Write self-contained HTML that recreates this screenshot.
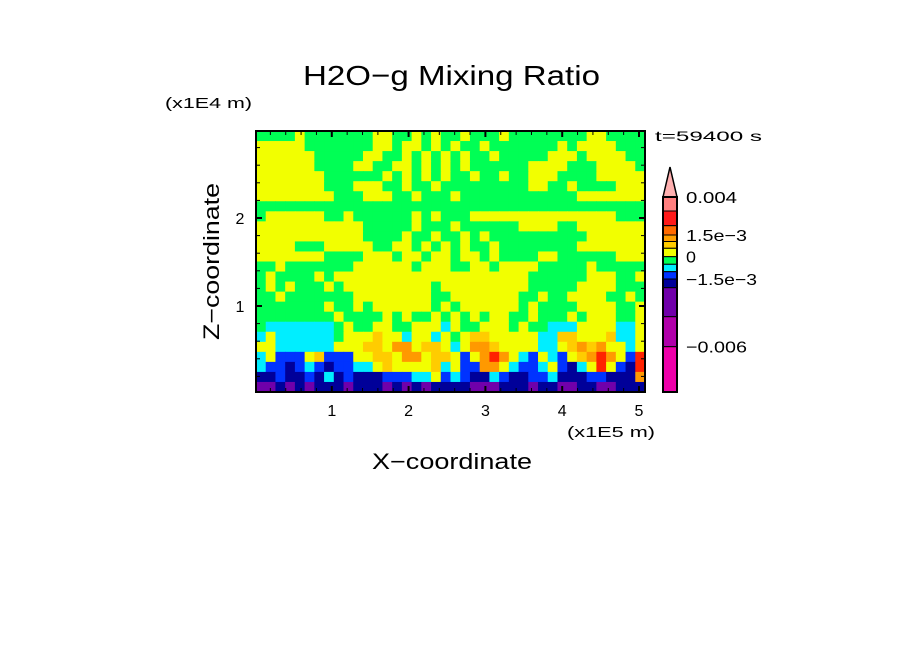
<!DOCTYPE html>
<html><head><meta charset="utf-8"><style>
body{margin:0;background:#fff;}
svg{display:block;font-family:"Liberation Sans",sans-serif;}
</style></head><body>
<svg id="chart" width="904" height="654" viewBox="0 0 904 654" xmlns="http://www.w3.org/2000/svg">
<rect width="904" height="654" fill="#fff"/>
<text x="303" y="85" font-size="28" textLength="297" lengthAdjust="spacingAndGlyphs" fill="#000">H2O−g Mixing Ratio</text>
<text x="165" y="108" font-size="15" textLength="87" lengthAdjust="spacingAndGlyphs" fill="#000">(x1E4 m)</text>
<text x="655" y="141" font-size="14" textLength="107" lengthAdjust="spacingAndGlyphs" fill="#000">t=59400 s</text>
<text x="567" y="437" font-size="15" textLength="88" lengthAdjust="spacingAndGlyphs" fill="#000">(x1E5 m)</text>
<text x="372" y="469" font-size="22" textLength="160" lengthAdjust="spacingAndGlyphs" fill="#000">X−coordinate</text>
<text x="0" y="0" font-size="22" textLength="157" lengthAdjust="spacingAndGlyphs" fill="#000" transform="translate(219,340) rotate(-90)">Z−coordinate</text>
<g id="field"></g>
<g id="axes"></g>
<g id="cbar"></g>
</svg>
<script>
const NS="http://www.w3.org/2000/svg";
// field rows (top to bottom), level codes
const fieldRows=[
"GGGGYGGGGGGGYYGGYGYGGYGGGYGGGGGGGGYYGGGG",
"YYYYYGGGGGGGYYGYYGYGYGGYGGGGGGGYGYYYYGGG",
"YYYYYYGGGGGYYGGYGYGYGYGGYGGGGGYYYGYYYYGG",
"YYYYYYGGGGYYGGYYGYGYGYGGGGGGYYYYGGGYYYYG",
"YYYYYYYGGGGGGYGYGYGYGGYGGYGGYYYGGGGYYYYY",
"YYYYYYYGGGYYYGGYGGYGGGGGGGGGYYGGYGGGGYYY",
"YYYYYYYYGGGYYYGGYGGGYGGGGGGGGGGGGYYYYYYY",
"GGGGGGGGGGGGGGGGGGGGGGGGGGGGGGGGGGGGGGGG",
"GYYYYYYGGYGGGGGGYGYGGGYYYYYYYYYYYYYYYGGG",
"YYYYYYYYYYYGGGGGYGGGYGGGGGGYYYYGGYYYYYYY",
"YYYYYYYYYYYGGGGYGGYGGYGYGGGGGGGGGGYYYYYY",
"YYYYGGGYYYYYGGYYGYGYGYGGYGGGGGGGGYYYYYYY",
"YYYYYYYGGGGYYYGYYGYYGYYGYGGGGYYGGGGGGYYY",
"GGYGGGGGGGYYYYYYGYYYGGYYGYYYYGGGGGYGGGGG",
"GYGGGGYGYYYYYYYYYYYYYYYYYYYYGGGGGGYYYGGY",
"GYGYGGGYGYYYYYYYYYGYYYYYYYYYGGGGGYYYYGGG",
"GGYGGGGGGGYYYYYYYYGGYYYYYYYGGYGGYYYYGGYG",
"GGGGGGGYGGYGYYYYYYGYGYYYYYYGYGGGGYYYYGGY",
"GGGGGGGGYGGGGYGYGGYGYGYGYYGGYGGGYGYYYGGY",
"GCCCCCCCGYGGYYGGYYYCYGGYYYGYGGCCCYYYYCCY",
"CYCCCCCCGYYYoYYCYYCYGYooYYYYYCCooYYYoCCY",
"YYCCCCCCYYYooYOOYooYCYOOoYYYYCCYoOoOYYCY",
"CYBBBYoBBBYYooYOOYooYBYOROYCBYCBYoOROYBR",
"CBBNBCBNBBCCYoYYYYoCYBBOOYCBBCYBNCYRYBNR",
"NNBNNBNCNBNNNBBBCCYBCBNNCBNNBBCNNNBBNNNO",
"PPNPNPNNNPNNNPNPNPNNNNPPPNNNPNNPPNNPPNNN"];
const levelCodes=["P","N","B","C","G","Y","o","O","R"];
const levelColors=["#7000aa","#000099","#0033ff","#00eeff","#00ff55","#f2ff00","#ffcc00","#ff9900","#ff2200"];
// colorbar levels top→bottom
const cbarColors=["#ff7f7f","#ff1a1a","#ff6a00","#ff9f00","#ffcc00","#f2ff00","#00ff55","#00eeff","#0033ff","#000099","#7000aa","#b000aa","#ee00aa"];
const cbarValues=[0.004,0.003,0.002,0.0015,0.001,0.0005,0,-0.0005,-0.001,-0.0015,-0.002,-0.004,-0.006,-0.009];
const cbarLabelText=["0.004","1.5e−3","0","−1.5e−3","−0.006"];
const cbarLabelValues=[0.004,0.0015,0,-0.0015,-0.006];
const xTicks=[1,2,3,4,5];
const yTicks=[1,2];
const X0=256,X1=645,Y0=131,Y1=392;
const xScale=v=>255+v*76.8;
const yScale=v=>394-v*88;
const field=document.getElementById('field');
const nr=fieldRows.length,nc=fieldRows[0].length;
const cw=(X1-X0)/nc,ch=(Y1-Y0)/nr;
for(let r=0;r<nr;r++){for(let c=0;c<nc;c++){
 const k=levelCodes.indexOf(fieldRows[r][c]);
 const el=document.createElementNS(NS,'rect');
 el.setAttribute('x',(X0+c*cw).toFixed(2));el.setAttribute('y',(Y0+r*ch).toFixed(2));
 el.setAttribute('width',(cw+0.6).toFixed(2));el.setAttribute('height',(ch+0.6).toFixed(2));
 el.setAttribute('fill',levelColors[k]);
 
 
 field.appendChild(el);}}
const axes=document.getElementById('axes');
function line(x1,y1,x2,y2,w,name){const l=document.createElementNS(NS,'line');
 l.setAttribute('x1',x1);l.setAttribute('y1',y1);l.setAttribute('x2',x2);l.setAttribute('y2',y2);
 l.setAttribute('stroke','#000');l.setAttribute('stroke-width',w);
 
 
 axes.appendChild(l);}
function text(x,y,s,size,anchor,name,parent){const t=document.createElementNS(NS,'text');
 t.setAttribute('x',x);t.setAttribute('y',y);t.setAttribute('font-size',size);t.setAttribute('text-anchor',anchor);
 t.textContent=s;
 
 
 parent.appendChild(t);return t;}
const fr=document.createElementNS(NS,'rect');
fr.setAttribute('x',X0);fr.setAttribute('y',Y0);fr.setAttribute('width',X1-X0);fr.setAttribute('height',Y1-Y0);
fr.setAttribute('fill','none');fr.setAttribute('stroke','#000');fr.setAttribute('stroke-width',2);


axes.appendChild(fr);
for(let v=0.2;v<5.1;v+=0.2){const x=xScale(v);const maj=Math.abs(v-Math.round(v))<0.01;const L=maj?6:4;
 line(x,Y1,x,Y1-L,maj?2:1,'x-tick');line(x,Y0,x,Y0+L,maj?2:1,'x-tick-top');}
for(let v=0.2;v<3;v+=0.2){const y=yScale(v);if(y<Y0)continue;const maj=Math.abs(v-Math.round(v))<0.01;const L=maj?6:4;
 line(X0,y,X0+L,y,maj?2:1,'y-tick');line(X1,y,X1-L,y,maj?2:1,'y-tick-right');}
xTicks.forEach(v=>text(xScale(v),416,String(v),16,'middle','x-tick-label',axes));
yTicks.forEach(v=>text(240,yScale(v)+6,String(v),16,'middle','y-tick-label',axes));
// colorbar
const cb=document.getElementById('cbar');
const cbX=663,cbW=14,cbTop=197,cbBot=392;
const bounds=[197,211,225.7,235,241.5,248.3,256.7,264.3,271.7,279,287.7,316.7,346.7,392];
const cy=v=>{for(let i=0;i<cbarValues.length-1;i++){const a=cbarValues[i],b=cbarValues[i+1];if(v<=a&&v>=b)return bounds[i]+(a-v)/(a-b)*(bounds[i+1]-bounds[i]);}return cbBot;};
for(let i=0;i<cbarColors.length;i++){const r=document.createElementNS(NS,'rect');
 const y0=cy(cbarValues[i]),y1=cy(cbarValues[i+1]);
 r.setAttribute('x',cbX);r.setAttribute('y',y0);r.setAttribute('width',cbW);r.setAttribute('height',y1-y0);
 r.setAttribute('fill',cbarColors[i]);r.setAttribute('stroke','#000');r.setAttribute('stroke-width',1);
 
 
 cb.appendChild(r);}
const tri=document.createElementNS(NS,'polygon');
tri.setAttribute('points',`${cbX},${cbTop} ${cbX+cbW/2},167 ${cbX+cbW},${cbTop}`);
tri.setAttribute('fill','#ffb0b0');tri.setAttribute('stroke','#000');tri.setAttribute('stroke-width',1.5);


cb.appendChild(tri);
const cbo=document.createElementNS(NS,'rect');
cbo.setAttribute('x',cbX);cbo.setAttribute('y',cbTop);cbo.setAttribute('width',cbW);cbo.setAttribute('height',cbBot-cbTop);
cbo.setAttribute('fill','none');cbo.setAttribute('stroke','#000');cbo.setAttribute('stroke-width',2);


cb.appendChild(cbo);
cbarLabelText.forEach((s,i)=>{const t=text(686,cy(cbarLabelValues[i])+6,s,16,'start','colorbar-label',cb);
 t.setAttribute('textLength',(s.length*10.2).toFixed(0));t.setAttribute('lengthAdjust','spacingAndGlyphs');});
</script>
</body></html>
